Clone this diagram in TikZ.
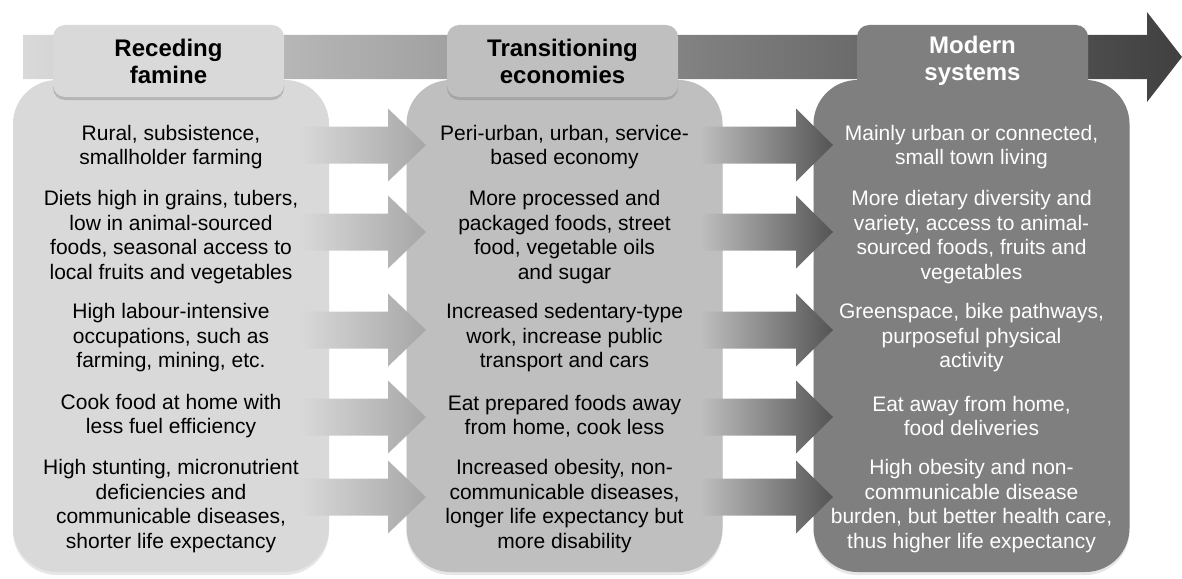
\documentclass[tikz,border=0pt]{standalone}
\usepackage{fontspec}
\setmainfont{Liberation Sans}
\usetikzlibrary{shadows}

\definecolor{famgray}{HTML}{D9D9D9}
\definecolor{trangray}{HTML}{BFBFBF}
\definecolor{modgray}{HTML}{7F7F7F}
\definecolor{bandend}{HTML}{404040}

\tikzset{
	stage/.style={rounded corners=44pt, minimum width=316pt, minimum height=492pt, inner sep=0pt,
		drop shadow={opacity=0.2, shadow xshift=0pt, shadow yshift=-3pt}},
	header/.style={rounded corners=12pt, minimum width=231pt, minimum height=72pt, inner sep=0pt,
		align=center, font=\fontsize{24}{27}\selectfont\bfseries,
		drop shadow={opacity=0.4, shadow xshift=0pt, shadow yshift=-3pt}},
	item/.style={align=center, inner sep=0pt, font=\fontsize{21}{24.5}\selectfont},
}

\begin{document}
\begin{tikzpicture}[x=1pt, y=-1pt]
		\useasboundingbox (0,0) rectangle (1182,578);
		
		% timeline band
		\shade[left color=famgray, right color=bandend] (23,35) -- (1147,35) -- (1147,12) -- (1182,57) -- (1147,102) -- (1147,79) -- (23,79) -- cycle;
		
		\node[stage, fill=famgray] (famine) at (171,326) {};
		\node[stage, fill=trangray] (transit) at (564.5,326) {};
		\node[stage, fill=modgray] (modern) at (971.5,326) {};
		
		\node[header, fill=famgray] (famhead) at (168.5,61) {Receding\\famine};
		\node[header, fill=trangray] (tranhead) at (562.5,61) {Transitioning\\economies};
		\node[header, fill=modgray, text=white] (modhead) at (972.5,61) {Modern\\systems};
		
		% row arrows
		\foreach \y in {145,232,330,417,497}{
			\shade[left color=famgray, right color=black!35] (300,\y-18.5) -- (388,\y-18.5) -- (388,\y-36.5) -- (426,\y) -- (388,\y+36.5) -- (388,\y+18.5) -- (300,\y+18.5) -- cycle;
			\shade[left color=trangray, right color=black!67] (700,\y-18.5) -- (796,\y-18.5) -- (796,\y-36.5) -- (833,\y) -- (796,\y+36.5) -- (796,\y+18.5) -- (700,\y+18.5) -- cycle;
		}
		
		\node[item] (famA) at (171,147) {Rural, subsistence,\\smallholder farming};
		\node[item] (famB) at (171,237) {Diets high in grains, tubers,\\low in animal-sourced\\foods, seasonal access to\\local fruits and vegetables};
		\node[item] (famC) at (171,338) {High labour-intensive\\occupations, such as\\farming, mining, etc.};
		\node[item] (famD) at (171,416) {Cook food at home with\\less fuel efficiency};
		\node[item] (famE) at (171,506) {High stunting, micronutrient\\deficiencies and\\communicable diseases,\\shorter life expectancy};
		
		\node[item] (tranA) at (564.5,147) {Peri-urban, urban, service-\\based economy};
		\node[item] (tranB) at (564.5,237) {More processed and\\packaged foods, street\\food, vegetable oils\\and sugar};
		\node[item] (tranC) at (564.5,338) {Increased sedentary-type\\work, increase public\\transport and cars};
		\node[item] (tranD) at (564.5,416) {Eat prepared foods away\\from home, cook less};
		\node[item] (tranE) at (564.5,506) {Increased obesity, non-\\communicable diseases,\\longer life expectancy but\\more disability};
		
		\node[item, text=white] (modA) at (971.5,147) {Mainly urban or connected,\\small town living};
		\node[item, text=white] (modB) at (971.5,237) {More dietary diversity and\\variety, access to animal-\\sourced foods, fruits and\\vegetables};
		\node[item, text=white] (modC) at (971.5,338) {Greenspace, bike pathways,\\purposeful physical\\activity};
		\node[item, text=white] (modD) at (971.5,416) {Eat away from home,\\food deliveries};
		\node[item, text=white] (modE) at (971.5,506) {High obesity and non-\\communicable disease\\burden, but better health care,\\thus higher life expectancy};
	\end{tikzpicture}
\end{document}
